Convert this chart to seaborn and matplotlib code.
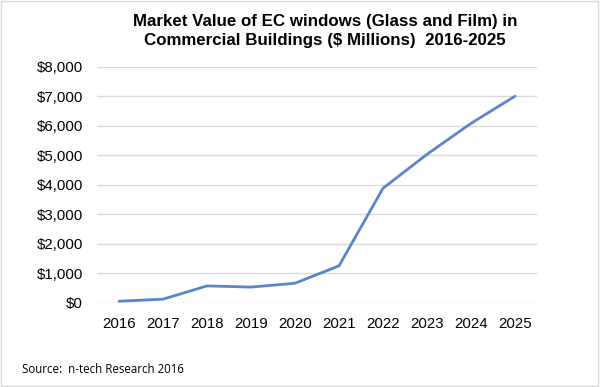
import matplotlib
matplotlib.use("Agg")
import matplotlib.pyplot as plt
import seaborn as sns
import pandas as pd
from matplotlib.ticker import FuncFormatter, MultipleLocator
from matplotlib.patches import Rectangle

years = ["2016", "2017", "2018", "2019", "2020", "2021", "2022", "2023", "2024", "2025"]
values = [50, 120, 570, 530, 660, 1250, 3880, 5030, 6080, 7000]
title = "Market Value of EC windows (Glass and Film) in\nCommercial Buildings ($ Millions)  2016-2025"
source = "Source:  n-tech Research 2016"

df = pd.DataFrame({"year": years, "value": values})

sns.set_theme(style="white")
plt.rcParams["font.family"] = ["Liberation Sans", "DejaVu Sans"]

fig = plt.figure(figsize=(6, 3.87), dpi=100)
ax = fig.add_axes([0.1617, 0.2178, 0.7333, 0.6098])

sns.lineplot(data=df, x="year", y="value", ax=ax, color="#5B84CA", linewidth=2.0, sort=False)

ax.set_xlim(-0.5, len(years) - 0.5)
ax.set_ylim(0, 8000)
ax.yaxis.set_major_locator(MultipleLocator(1000))
ax.yaxis.set_major_formatter(FuncFormatter(lambda v, p: f"${v:,.0f}"))
ax.grid(axis="y", color="#D9D9D9", linewidth=1.0)
ax.set_axisbelow(True)
for s in ax.spines.values():
    s.set_visible(False)
ax.set_xlabel("")
ax.set_ylabel("")
ax.tick_params(axis="both", length=0, labelsize=10.8, colors="#000000")
ax.tick_params(axis="y", pad=10)
ax.tick_params(axis="x", pad=10)

fig.text(0.542, 0.963, title, ha="center", va="top", fontsize=12.2, fontweight="bold",
         linespacing=1.3, color="#000000")
fig.text(0.036, 0.045, source, ha="left", va="center", fontsize=8.3, color="#000000",
         family=["Open Sans", "DejaVu Sans"])

fig.patches.append(Rectangle((0.0015, 0.002), 0.995, 0.995, transform=fig.transFigure,
                             fill=False, edgecolor="#D9D9D9", linewidth=1.0))

fig.savefig("out.png", dpi=100)
